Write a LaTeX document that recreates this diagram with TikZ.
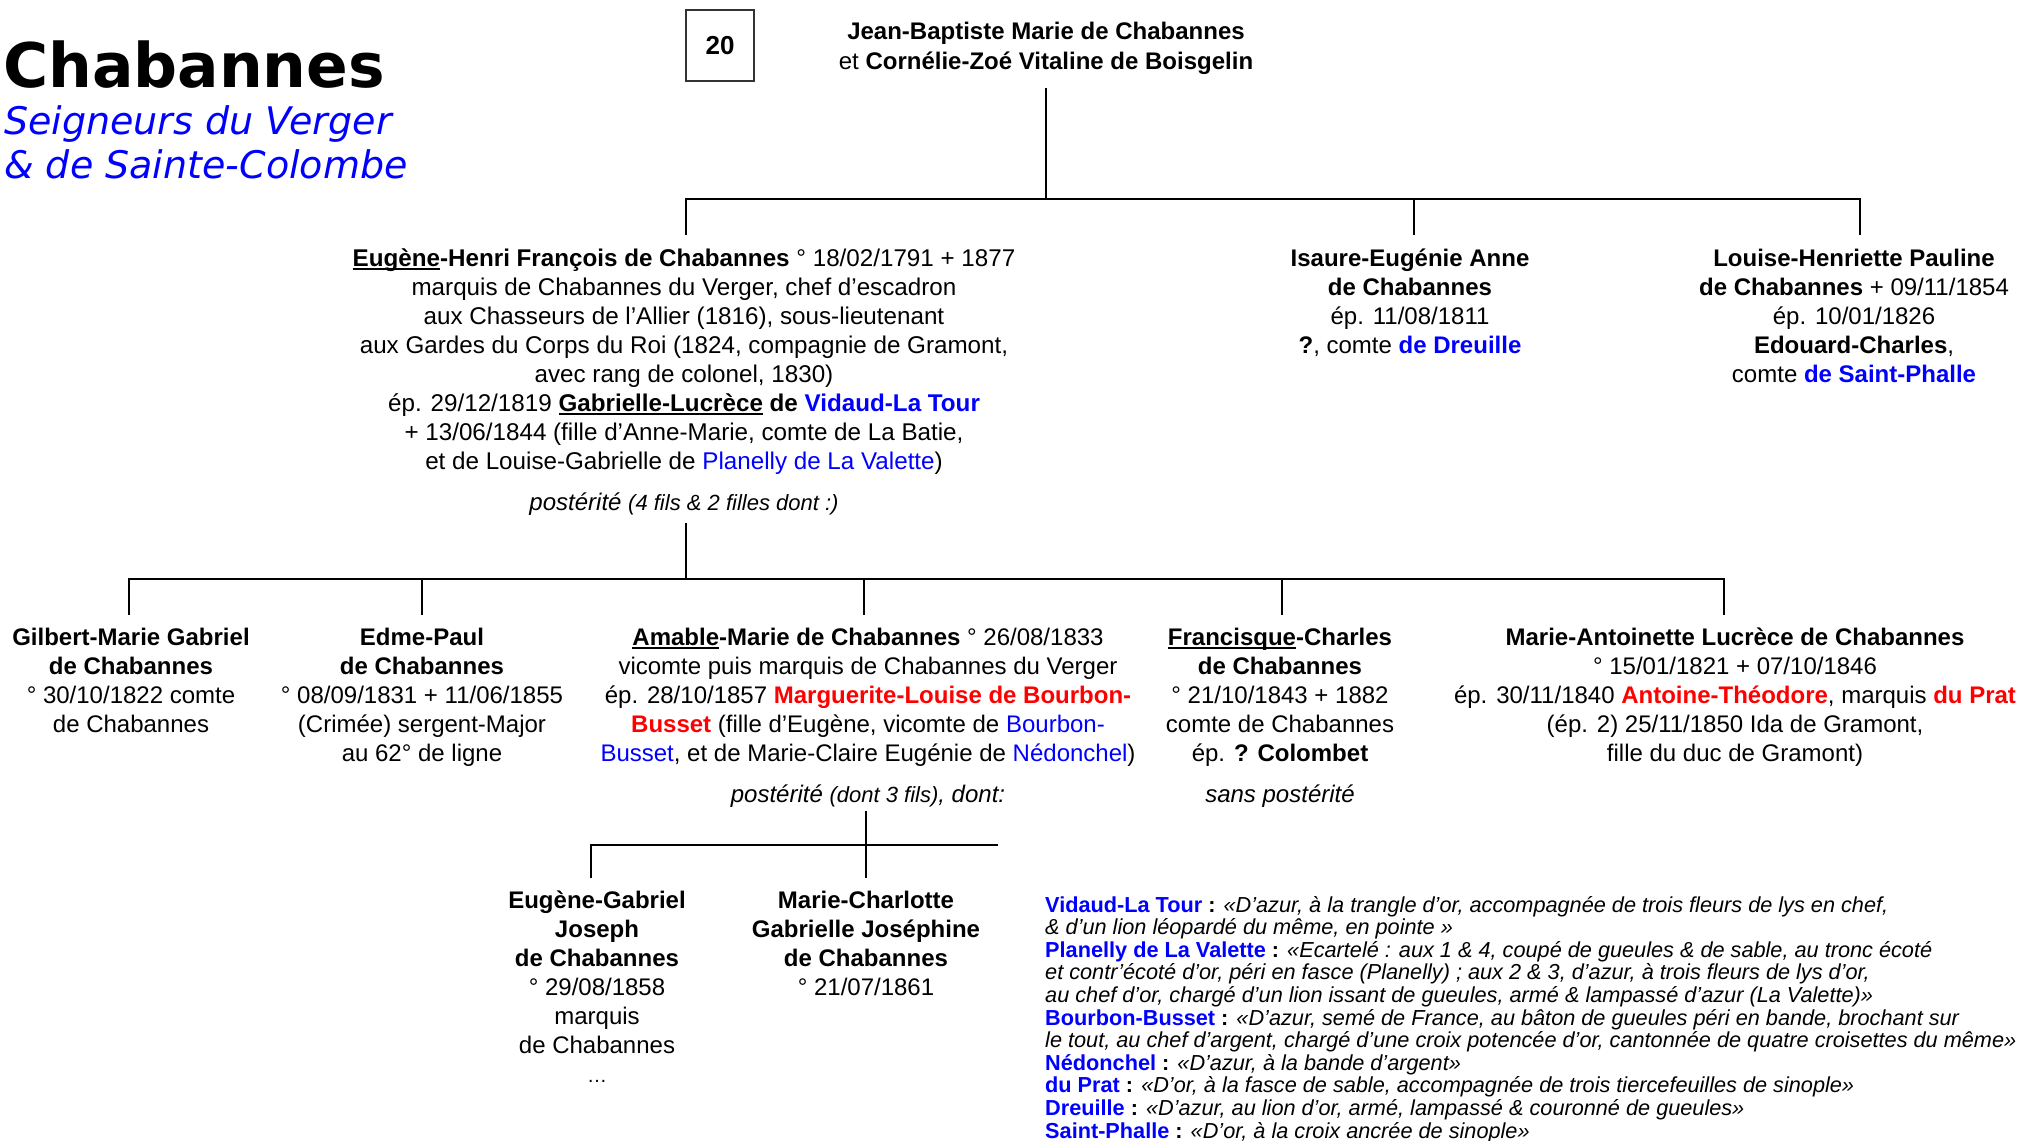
\documentclass[tikz,border=0pt]{standalone}
\usepackage{fontspec}
\setmainfont{Liberation Sans}
\newfontfamily\titlefont{DejaVu Sans}
\usetikzlibrary{positioning}
\definecolor{lblue}{RGB}{0,0,255}
\definecolor{lred}{RGB}{255,0,0}
\newcommand\bl[1]{{\color{lblue}#1}}
\newcommand\rd[1]{{\color{lred}#1}}
\newcommand\fbody{\fontsize{24}{29}\selectfont}
\newcommand\fsmall{\fontsize{22}{26}\selectfont}
\newcommand\fleg{\fontsize{21.7}{22.6}\selectfont}
\newcommand\myul[1]{\setbox0\hbox{#1}\rlap{\rule[-3.5pt]{\wd0}{2.2pt}}\box0\relax}
\tikzset{
  person/.style={align=center, inner sep=0pt, anchor=north, font=\fbody},
  conn/.style={line width=2.8pt},
  note/.style={inner sep=0pt, anchor=base, font=\fbody\itshape},
}
\begin{document}
\begin{tikzpicture}[x=1pt,y=-1pt]
\useasboundingbox (0,0) rectangle (2025,1140);
\fill[white] (0,0) rectangle (2025,1140);

% title
\node[inner sep=0pt, anchor=base west, font=\titlefont\bfseries\fontsize{61.5}{61.5}\selectfont] (title) at (3,88) {Chabannes};
\node[inner sep=0pt, anchor=base west, font=\titlefont\itshape\fontsize{38}{44}\selectfont, text=lblue] (sub1) at (4,134) {Seigneurs du Verger};
\node[inner sep=0pt, anchor=base west, font=\titlefont\itshape\fontsize{38}{44}\selectfont, text=lblue] (sub2) at (4,178) {\& de Sainte-Colombe};

% number box
\node[draw=black!80, line width=1.5pt, minimum width=68pt, minimum height=71pt, inner sep=0pt, font=\fontsize{26}{26}\selectfont\bfseries] (num) at (720,45.5) {20};

% parents
\node[person, font=\fontsize{24}{30}\selectfont] (couple) at (1046,22) {\textbf{Jean-Baptiste Marie de Chabannes}\\et \textbf{Cornélie-Zoé Vitaline de Boisgelin}};

% generation 1
\node[person, font=\fontsize{24.2}{29}\selectfont] (eugene) at (684,249) {\textbf{\myul{Eugène}-Henri François de Chabannes} ° 18/02/1791 + 1877\\
marquis de Chabannes du Verger, chef d’escadron\\
aux Chasseurs de l’Allier (1816), sous-lieutenant\\
aux Gardes du Corps du Roi (1824, compagnie de Gramont,\\
avec rang de colonel, 1830)\\
ép. 29/12/1819 \textbf{\myul{Gabrielle-Lucrèce} de \bl{Vidaud-La Tour}}\\
+ 13/06/1844 (fille d’Anne-Marie, comte de La Batie,\\
et de Louise-Gabrielle de \bl{Planelly de La Valette})};
\node[person] (isaure) at (1410,249) {\textbf{Isaure-Eugénie Anne}\\
\textbf{de Chabannes}\\
ép. 11/08/1811\\
\textbf{?}, comte \textbf{\bl{de Dreuille}}};
\node[person] (louise) at (1854,249) {\textbf{Louise-Henriette Pauline}\\
\textbf{de Chabannes} + 09/11/1854\\
ép. 10/01/1826\\
\textbf{Edouard-Charles},\\
comte \textbf{\bl{de Saint-Phalle}}};
\node[note] (post1) at (684,510) {postérité {\fsmall(4 fils \& 2 filles dont :)}};

% generation 2
\node[person] (gilbert) at (131,628) {\textbf{Gilbert-Marie Gabriel}\\
\textbf{de Chabannes}\\
° 30/10/1822 comte\\
de Chabannes};
\node[person] (edme) at (422,628) {\textbf{Edme-Paul}\\
\textbf{de Chabannes}\\
° 08/09/1831 + 11/06/1855\\
(Crimée) sergent-Major\\
au 62° de ligne};
\node[person] (amable) at (868,628) {\textbf{\myul{Amable}-Marie de Chabannes} ° 26/08/1833\\
vicomte puis marquis de Chabannes du Verger\\
ép. 28/10/1857 \textbf{\rd{Marguerite-Louise de Bourbon-}}\\
\textbf{\rd{Busset}} (fille d’Eugène, vicomte de \bl{Bourbon-}\\
\bl{Busset}, et de Marie-Claire Eugénie de \bl{Nédonchel})};
\node[person] (francisque) at (1280,628) {\textbf{\myul{Francisque}-Charles}\\
\textbf{de Chabannes}\\
° 21/10/1843 + 1882\\
comte de Chabannes\\
ép. \textbf{? Colombet}};
\node[person] (antoinette) at (1735,628) {\textbf{Marie-Antoinette Lucrèce de Chabannes}\\
° 15/01/1821 + 07/10/1846\\
ép. 30/11/1840 \textbf{\rd{Antoine-Théodore}}, marquis \textbf{\rd{du Prat}}\\
(ép. 2) 25/11/1850 Ida de Gramont,\\
fille du duc de Gramont)};
\node[note] (post2) at (868,802) {postérité {\fsmall(dont 3 fils)}, dont:};
\node[note] (sans) at (1280,802) {sans postérité};

% generation 3
\node[person] (eugab) at (597,891) {\textbf{Eugène-Gabriel}\\
\textbf{Joseph}\\
\textbf{de Chabannes}\\
° 29/08/1858\\
marquis\\
de Chabannes\\
{\fontsize{20}{24}\selectfont …}};
\node[person] (charlotte) at (866,891) {\textbf{Marie-Charlotte}\\
\textbf{Gabrielle Joséphine}\\
\textbf{de Chabannes}\\
° 21/07/1861};

% legend
\node[inner sep=0pt, anchor=north west, align=left, font=\fleg] (legend) at (1045,896) {%
\textbf{\bl{Vidaud-La Tour}} \textbf{:} \textit{«D’azur, à la trangle d’or, accompagnée de trois fleurs de lys en chef,}\\
\textit{\& d’un lion léopardé du même, en pointe »}\\
\textbf{\bl{Planelly de La Valette}} \textbf{:} \textit{«Ecartelé : aux 1 \& 4, coupé de gueules \& de sable, au tronc écoté}\\
\textit{et contr’écoté d’or, péri en fasce (Planelly) ; aux 2 \& 3, d’azur, à trois fleurs de lys d’or,}\\
\textit{au chef d’or, chargé d’un lion issant de gueules, armé \& lampassé d’azur (La Valette)»}\\
\textbf{\bl{Bourbon-Busset}} \textbf{:} \textit{«D’azur, semé de France, au bâton de gueules péri en bande, brochant sur}\\
\textit{le tout, au chef d’argent, chargé d’une croix potencée d’or, cantonnée de quatre croisettes du même»}\\
\textbf{\bl{Nédonchel}} \textbf{:} \textit{«D’azur, à la bande d’argent»}\\
\textbf{\bl{du Prat}} \textbf{:} \textit{«D’or, à la fasce de sable, accompagnée de trois tiercefeuilles de sinople»}\\
\textbf{\bl{Dreuille}} \textbf{:} \textit{«D’azur, au lion d’or, armé, lampassé \& couronné de gueules»}\\
\textbf{\bl{Saint-Phalle}} \textbf{:} \textit{«D’or, à la croix ancrée de sinople»}};

% connectors
\coordinate (c0) at (1046,88);
\coordinate (c0b) at (1046,199);
\coordinate (bL) at (686,199);
\coordinate (bM) at (1414,199);
\coordinate (bR) at (1860,199);
\coordinate (dL) at (686,235);
\coordinate (dM) at (1414,235);
\coordinate (dR) at (1860,235);
\draw[conn] (c0) -- (c0b);
\draw[conn] (dL) -- (bL) -- (bR) -- (dR);
\draw[conn] (bM) -- (dM);

\coordinate (p1) at (686,523);
\coordinate (p1b) at (686,579);
\coordinate (gL) at (129,579);
\coordinate (gR) at (1724,579);
\coordinate (g2) at (422,579);
\coordinate (g3) at (864,579);
\coordinate (g4) at (1282,579);
\coordinate (hL) at (129,615);
\coordinate (hR) at (1724,615);
\coordinate (h2) at (422,615);
\coordinate (h3) at (864,615);
\coordinate (h4) at (1282,615);
\draw[conn] (p1) -- (p1b);
\draw[conn] (hL) -- (gL) -- (gR) -- (hR);
\draw[conn] (g2) -- (h2);
\draw[conn] (g3) -- (h3);
\draw[conn] (g4) -- (h4);

\coordinate (q1) at (866,811);
\coordinate (q1b) at (866,878);
\coordinate (kL) at (591,845);
\coordinate (kR) at (998,845);
\coordinate (kLd) at (591,878);
\draw[conn] (q1) -- (q1b);
\draw[conn] (kLd) -- (kL) -- (kR);
\end{tikzpicture}
\end{document}
